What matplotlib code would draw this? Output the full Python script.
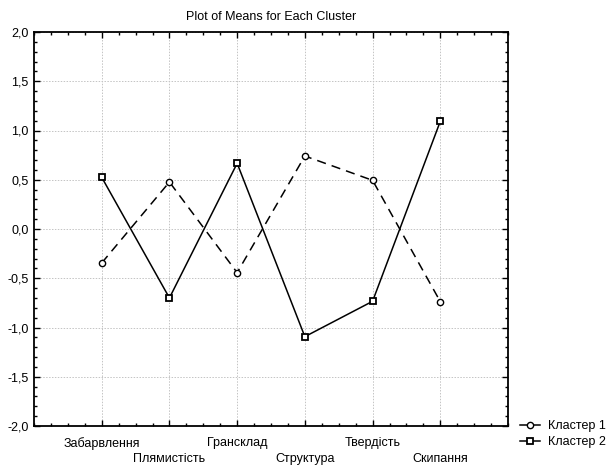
import matplotlib
matplotlib.use("Agg")
import matplotlib.pyplot as plt
from matplotlib.lines import Line2D
from matplotlib.ticker import MultipleLocator, FixedLocator

plt.rcParams["font.family"] = ["Liberation Sans", "DejaVu Sans"]

categories = ["Забарвлення", "Плямистість", "Грансклад", "Структура", "Твердість", "Скипання"]
cluster1 = [-0.345, 0.477, -0.443, 0.741, 0.494, -0.737]
cluster2 = [0.525, -0.700, 0.667, -1.093, -0.734, 1.093]
series_names = ["Кластер 1", "Кластер 2"]
y_ticks = [-2.0, -1.5, -1.0, -0.5, 0.0, 0.5, 1.0, 1.5, 2.0]

fig = plt.figure(figsize=(6.08, 4.68), dpi=100, facecolor="white")
ax = fig.add_axes([34 / 608, 1 - 426 / 468, 474 / 608, 394 / 468])

x = list(range(len(categories)))
ax.plot(x, cluster1, color="black", lw=1.1, ls=(0, (6, 4)), marker="o", ms=4.5,
        mfc="white", mec="black", mew=1.0, zorder=3)
ax.plot(x, cluster2, color="black", lw=1.1, ls="-", marker="s", ms=5,
        mfc="white", mec="black", mew=1.3, zorder=3)

ax.set_xlim(-1, 6)
ax.set_ylim(-2, 2)
ax.xaxis.set_major_locator(FixedLocator(x))
ax.xaxis.set_minor_locator(MultipleLocator(0.25))
ax.set_xticklabels([("" if i % 2 == 0 else "\n") + c for i, c in enumerate(categories)],
                   linespacing=1.45)
ax.yaxis.set_major_locator(FixedLocator(y_ticks))
ax.yaxis.set_minor_locator(MultipleLocator(0.1))
ax.set_yticklabels([f"{v:.1f}".replace(".", ",") for v in y_ticks])

ax.tick_params(which="both", direction="in", top=True, right=True, width=1.0,
               labelsize=9)
ax.tick_params(axis="x", pad=8)
ax.tick_params(axis="y", pad=4)
ax.tick_params(which="major", length=4)
ax.tick_params(which="minor", length=2.5)
ax.grid(True, which="major", color="#c4c4c4", ls=(0, (1.5, 1.5)), lw=0.7)
for s in ax.spines.values():
    s.set_linewidth(1.3)

ax.set_title("Plot of Means for Each Cluster", fontsize=9, pad=9)

# legend shows solid lines for both series
handles = [
    Line2D([], [], color="black", lw=1.1, marker="o", ms=4.5, mfc="white", mew=1.0),
    Line2D([], [], color="black", lw=1.1, marker="s", ms=5, mfc="white", mew=1.3),
]
ax.legend(handles, series_names, loc="lower left", bbox_to_anchor=(1.01, -0.075),
          frameon=False, fontsize=9, handlelength=1.6, handletextpad=0.6,
          labelspacing=0.3, borderaxespad=0.2)

fig.savefig("out.png", dpi=100, facecolor="white")
